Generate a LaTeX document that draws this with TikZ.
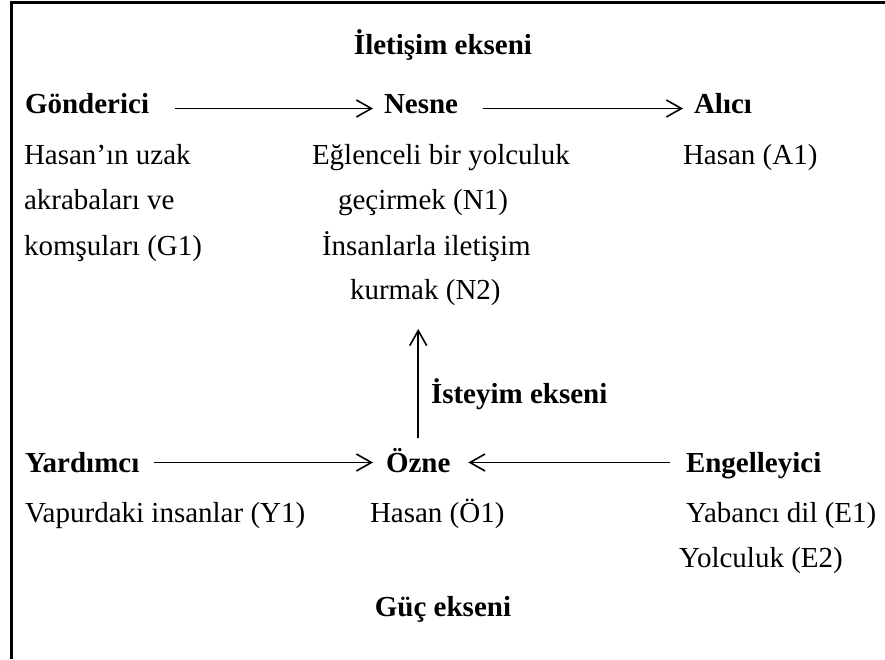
\documentclass[tikz,border=0pt]{standalone}
\usepackage{fontspec}
\setmainfont{Liberation Serif}
\usetikzlibrary{arrows.meta,calc}
\tikzset{
  txt/.style={inner sep=0pt, outer sep=0pt, anchor=base west, font=\fontsize{29pt}{35pt}\selectfont},
  btxt/.style={txt, font=\fontsize{29pt}{35pt}\selectfont\bfseries},
  arr/.style={line width=1.6pt, -{Straight Barb[length=15pt,width=17pt,line width=1.6pt]}},
  frame/.style={line width=3pt}
}
\begin{document}
\begin{tikzpicture}[x=1pt,y=1pt]
\useasboundingbox (0,0) rectangle (885,659);
\draw[frame] (11,0) -- (11,656) -- (885,656);
% top row
\node[btxt, anchor=base] (title) at (443,604) {İletişim ekseni};
\node[btxt] (gond) at (25,545) {Gönderici};
\node[btxt] (nesne) at (384,545) {Nesne};
\node[btxt] (alici) at (694,545) {Alıcı};
\node[txt] (g1a) at (24,494) {Hasan’ın uzak};
\node[txt] (g1b) at (24,449) {akrabaları ve};
\node[txt] (g1c) at (24,403) {komşuları (G1)};
\node[txt] (n1a) at (312,494) {Eğlenceli bir yolculuk};
\node[txt] (n1b) at (338,449) {geçirmek (N1)};
\node[txt] (n2a) at (322,403) {İnsanlarla iletişim};
\node[txt] (n2b) at (350,359) {kurmak (N2)};
\node[txt] (a1) at (683,494) {Hasan (A1)};
% middle
\node[btxt] (isteyim) at (431,256) {İsteyim ekseni};
% bottom row
\node[btxt] (yard) at (25,187) {Yardımcı};
\node[btxt] (ozne) at (386,187) {Özne};
\node[btxt] (eng) at (686,187) {Engelleyici};
\node[txt] (y1) at (25,137) {Vapurdaki insanlar (Y1)};
\node[txt] (o1) at (370,137) {Hasan (Ö1)};
\node[txt] (e1) at (686,137) {Yabancı dil (E1)};
\node[txt] (e2) at (679,92) {Yolculuk (E2)};
\node[btxt, anchor=base] (guc) at (443,43) {Güç ekseni};
% arrows
\draw[arr] ($(gond.base east)+(26,5.5)$) -- ($(nesne.base west)+(-11,5.5)$);
\draw[arr] ($(nesne.base east)+(25,5.5)$) -- ($(alici.base west)+(-11,5.5)$);
\draw[arr] ($(yard.base east)+(14.5,9.5)$) -- ($(ozne.base west)+(-13,9.5)$);
\draw[arr] ($(eng.base west)+(-16,9.5)$) -- ($(ozne.base east)+(18,9.5)$);
\draw[arr] ($(ozne.base)+(0,34)$) -- ($(ozne.base |- n2b.base)+(0,-29)$);
\end{tikzpicture}
\end{document}
